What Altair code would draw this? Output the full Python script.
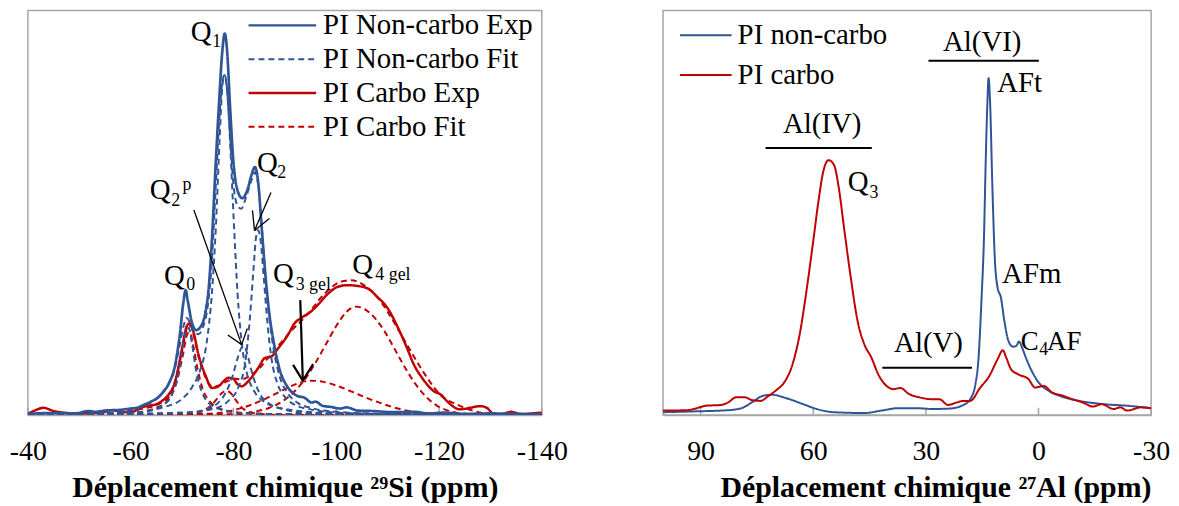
import altair as alt
import pandas as pd

BLUE = "#2F5597"
RED = "#C00000"
GRAY = "#A6A6A6"
FONT = "Liberation Serif"

# ---------------- 29Si panel (ppm, relative intensity %) ----------------
SI_BLUE_EXP_X = [-40, -45, -49, -52, -53, -55, -58, -60, -61.3, -62.5, -64.1, -65.3, -66.2, -67.5, -68.6,
                 -69.6, -70.3, -70.7, -71.1, -71.8, -72.7, -73.8, -74.5, -75.2, -75.8, -76.5, -77.2, -77.8,
                 -78.3, -78.8, -79.3, -80.0, -80.7, -81.7, -82.8, -83.5, -84.2, -84.8, -85.5, -86.2, -86.9,
                 -88.0, -89.0, -90.4, -91.5, -92.5, -93.8, -95.2, -96, -97.3, -99, -100.8, -102, -104.2,
                 -107, -111.1, -115, -118.1, -121, -125, -130, -135, -140]
SI_BLUE_EXP_Y = [0.3, 0.5, 0.4, 1.0, 0.8, 1.1, 1.3, 1.6, 1.8, 2.5, 3.4, 4.3, 5.5, 8.0, 12.1,
                 20.2, 28.3, 30.9, 28.3, 23.5, 21.0, 22.2, 25.1, 31.6, 43.0, 60.9, 77.2, 89.4,
                 94.3, 89.4, 77.2, 62.5, 56.0, 53.6, 56.0, 59.3, 61.3, 57.7, 46.3, 34.9, 25.9,
                 16.9, 11.2, 7.2, 5.5, 4.7, 4.3, 3.1, 3.3, 2.3, 2.0, 1.6, 1.9, 1.1,
                 1.0, 0.7, 0.8, 0.4, 0.6, 0.3, 0.4, 0.3, 0.2]

SI_BLUE_FIT_X = [-40, -55, -60, -63, -65, -67, -68.5, -69.5, -70.3, -70.9, -71.5, -72.3, -73.2, -74, -75,
                 -75.8, -76.5, -77.2, -77.8, -78.2, -78.7, -79.3, -80, -80.7, -81.5, -82.5, -83.5, -84.2,
                 -84.9, -85.6, -86.3, -87, -88, -89, -90.5, -92.5, -95, -100, -110, -140]
SI_BLUE_FIT_Y = [0, 0.5, 1.2, 2.5, 4, 7, 11, 17, 22, 24, 23, 20.5, 20, 21.5, 27,
                 38, 55, 72, 82, 84, 81, 70, 57, 52, 51, 54, 58, 60,
                 56, 45, 33, 24, 15, 9.5, 5.5, 3, 1.8, 0.8, 0.3, 0.1]

SI_BLUE_Q0_X = [-40, -60, -64, -66, -68, -69.3, -70.2, -70.8, -71.3, -71.9, -72.6, -73.5, -74.5, -76, -78, -82, -90, -140]
SI_BLUE_Q0_Y = [0, 0.5, 1.2, 2.2, 5, 10, 17, 21, 21.5, 18, 12, 7, 4, 2.2, 1.2, 0.5, 0.2, 0]

SI_BLUE_Q1_X = [-40, -60, -66, -70, -72, -73.5, -74.8, -75.8, -76.6, -77.3, -77.9, -78.3, -78.8, -79.4,
                -80.1, -80.8, -81.6, -82.5, -84, -86, -90, -100, -140]
SI_BLUE_Q1_Y = [0, 0.6, 1.8, 4, 7, 11, 18, 30, 47, 68, 82, 84, 80, 66,
                47, 30, 18, 11, 6, 3.3, 1.5, 0.4, 0]

SI_BLUE_Q2P_X = [-40, -70, -75, -77, -78.5, -79.8, -80.8, -81.5, -82, -82.6, -83.5, -84.5, -85.5, -87, -90, -95, -140]
SI_BLUE_Q2P_Y = [0, 0.5, 1.5, 3, 5.5, 9.5, 14, 16.5, 17, 15.5, 11, 7, 4.5, 2.8, 1.3, 0.5, 0]

SI_BLUE_Q2_X = [-40, -70, -76, -79, -81, -82.3, -83.2, -83.9, -84.4, -84.8, -85.3, -85.9, -86.6, -87.4,
                -88.5, -90, -92, -95, -100, -110, -140]
SI_BLUE_Q2_Y = [0, 0.6, 1.5, 3.5, 7, 13, 24, 36, 44, 45.7, 43, 34, 23, 14,
                8, 4.5, 2.5, 1.4, 0.6, 0.2, 0]

SI_RED_EXP_X = [-40, -41.5, -43, -45, -47, -50, -52, -54.5, -56, -58.4, -60, -61.5, -62.9, -64.8, -66,
                -67.4, -68.3, -69.0, -70.0, -70.9, -71.5, -72.2, -73.2, -74.5, -75.8, -77.1, -78.2, -79.0,
                -80.0, -80.6, -81.6, -82.9, -84.8, -86.1, -87.4, -88.7, -90.6, -91.9, -93.2, -95.1, -96.4,
                -98.4, -100.3, -102.2, -104.2, -106.1, -108.0, -110.0, -111.9, -113.8, -115.1, -116.7,
                -119.0, -120.3, -121.9, -124.1, -126.1, -128.0, -129.3, -130.6, -132, -134, -136, -138, -140]
SI_RED_EXP_Y = [0.3, 1.2, 1.8, 1.0, 0.6, 0.4, 0.5, 0.6, 1.2, 0.8, 0.6, 1.5, 2.2, 2.6, 3.4,
                5.1, 7.0, 10.0, 16.5, 21.9, 22.7, 20.6, 14.9, 10.0, 6.7, 7.1, 8.5, 9.2,
                9.0, 7.9, 7.1, 8.4, 11.6, 14.1, 14.5, 16.5, 19.8, 22.7, 24.0, 25.6, 27.2,
                30.0, 31.7, 32.1, 31.9, 31.3, 29.2, 26.4, 21.9, 16.5, 12.5, 9.2,
                5.9, 5.1, 3.0, 1.4, 1.8, 2.2, 1.8, 0.3, 0.2, 0.8, 0.2, 0.4, 0.6]

SI_RED_FIT_X = [-40, -58, -62, -65, -67.5, -69, -70.2, -71, -71.6, -72.4, -73.3, -74.5, -76, -77.5, -79,
                -80.3, -81.5, -83, -85, -87, -89, -91, -93, -95, -97, -99, -101, -103, -105.4, -107,
                -108.7, -110.5, -111.9, -113.5, -115.1, -117.7, -120.3, -123.5, -126.8, -130, -140]
SI_RED_FIT_Y = [0, 0.6, 1.5, 2.5, 4.5, 10, 17, 21.5, 22, 19, 14, 9.5, 7, 7.5, 8.5,
                9, 8.8, 9.5, 11.5, 14.5, 17.5, 20.5, 23, 25.8, 29, 31.5, 33, 33.3, 32.1, 30.5,
                28, 24.5, 21.5, 18, 14.5, 9.2, 4.9, 2.6, 1.0, 0.3, 0.1]

SI_RED_Q0_X = [-40, -60, -65, -67.5, -69, -70.2, -71, -71.5, -72.2, -73, -74, -75.5, -77, -80, -85, -140]
SI_RED_Q0_Y = [0, 0.5, 1.8, 4, 8.5, 15, 20, 20.5, 17, 11.5, 6.5, 3.2, 1.8, 0.8, 0.3, 0]

SI_RED_Q1_X = [-40, -72, -74, -75.5, -76.8, -77.8, -78.6, -79.4, -80.4, -81.5, -83, -85, -90, -140]
SI_RED_Q1_Y = [0, 0.3, 1, 2.2, 4, 5.5, 6, 5.5, 3.8, 2, 0.8, 0.3, 0, 0]

SI_RED_Q3_X = [-40, -75, -80, -84, -87, -90, -92.5, -95, -97.5, -100, -103, -106, -109, -112, -115, -118, -122, -125, -140]
SI_RED_Q3_Y = [0, 0.3, 1.2, 2.8, 4.5, 6.4, 7.8, 8.5, 8.2, 7.3, 5.8, 4.2, 2.8, 1.6, 0.8, 0.4, 0.1, 0, 0]

SI_RED_Q4_X = [-40, -80, -84, -87, -90, -92, -94, -96, -98, -100, -102, -103.8, -105.5, -107.5, -109.5,
               -111.5, -113.5, -115.5, -117.5, -119.5, -122, -125, -130, -140]
SI_RED_Q4_Y = [0, 0.2, 0.8, 1.8, 3.8, 6, 9, 13, 17.5, 22, 25.5, 26.8, 26.2, 24, 20.5,
               16, 11.5, 7.5, 4.5, 2.4, 1, 0.3, 0, 0]

SI_TICKS = [-40, -60, -80, -100, -120, -140]

SI_LABEL_TEXT = ["Q", "1", "Q", "2", "Q", "2", "p", "Q", "0", "Q", "3 gel", "Q", "4 gel"]
SI_LABEL_X = [-71.7, -75.9, -84.6, -88.5, -63.7, -67.9, -70.1, -66.5, -70.8, -87.7, -92.1, -103.1, -107.6]
SI_LABEL_Y = [92.4, 91.0, 60.0, 58.5, 53.3, 51.6, 55.6, 32.2, 30.9, 32.7, 31.0, 34.9, 33.4]
SI_LABEL_SIZE = [29, 18, 29, 18, 29, 18, 18, 29, 18, 29, 18, 29, 18]

SI_ARROW_X1 = [-72.3, -78.9, -82.7, -87.3, -83.7, -87.0]
SI_ARROW_Y1 = [50.7, 19.8, 21.4, 55.0, 50.6, 48.6]
SI_ARROW_X2 = [-81.6, -81.6, -81.6, -84.1, -84.1, -84.1]
SI_ARROW_Y2 = [17.4, 17.4, 17.4, 45.6, 45.6, 45.6]
SI_BIG_ARROW_X1 = [-93.0, -91.6, -95.5]
SI_BIG_ARROW_Y1 = [28.4, 12.4, 12.6]
SI_BIG_ARROW_X2 = [-93.5, -93.5, -93.5]
SI_BIG_ARROW_Y2 = [8.5, 8.5, 8.5]

SI_LEGEND = ["PI Non-carbo Exp", "PI Non-carbo Fit", "PI Carbo Exp", "PI Carbo Fit"]

# ---------------- 27Al panel ----------------
AL_BLUE_X = [100, 91.8, 82.7, 79.1, 76.4, 73.2, 70.9, 67.3, 62.7, 59.1, 54.5, 46.4, 41.8, 37.3, 32.7,
             28.2, 23.6, 20.0, 18.2, 16.8, 15.9, 15.2, 14.5, 14.1, 13.6, 13.3, 12.9, 12.3, 11.6, 10.9,
             10.0, 9.1, 8.0, 6.8, 5.9, 5.2, 4.4, 3.2, 1.8, 0, -2.7, -6.4, -10.9, -17.3, -23.6, -30]
AL_BLUE_Y = [0.7, 0.9, 1.2, 1.7, 3.1, 4.8, 5.0, 4.2, 2.7, 1.5, 0.7, 0.5, 1.1, 1.7, 1.7,
             1.5, 1.6, 2.5, 3.9, 7.6, 15.0, 28.2, 44.7, 61.1, 77.5, 83.3, 77.5, 57.0, 38.1, 31.5,
             29.0, 23.3, 18.3, 16.9, 17.1, 18.2, 16.7, 13.8, 10.9, 8.1, 6.0, 4.5, 3.5, 2.7, 2.3, 1.7]

AL_RED_X = [100, 93.6, 91.8, 88.6, 84.5, 82.7, 80.5, 78.2, 76.4, 74.1, 71.8, 69.5, 67.7, 65.5, 63.6,
            61.8, 60.0, 58.6, 57.3, 55.9, 54.5, 53.2, 51.8, 50.0, 48.2, 46.4, 44.5, 42.7, 40.9, 38.6,
            36.8, 34.5, 31.8, 28.2, 26.4, 24.1, 21.8, 20.0, 18.2, 15.5, 13.2, 10.9, 9.5, 8.6, 7.3,
            5.5, 2.7, 0.9, -1.4, -3.6, -6.4, -9.1, -11.8, -14.5, -16.8, -20.0, -21.8, -23.6, -27.3, -30]
AL_RED_Y = [1.1, 1.2, 1.5, 2.3, 2.5, 3.1, 4.4, 4.4, 3.7, 3.5, 4.8, 6.4, 8.1, 12.6, 20.0,
            30.7, 43.0, 52.9, 60.3, 63.0, 61.9, 56.2, 46.3, 34.0, 23.3, 17.5, 14.2, 10.1, 7.6, 6.4,
            6.7, 5.2, 4.4, 3.9, 3.9, 2.5, 3.1, 3.5, 3.5, 6.8, 9.5, 13.8, 16.0, 14.2, 11.3,
            10.1, 8.9, 6.8, 7.2, 5.6, 4.8, 3.9, 3.1, 2.1, 2.7, 1.5, 1.9, 1.1, 1.9, 1.7]

AL_TICKS = [90, 60, 30, 0, -30]

AL_BAR_X1 = [72.7, 41.6, 29.3]
AL_BAR_X2 = [44.4, 17.7, -0.1]
AL_BAR_Y = [66.0, 11.7, 87.6]

AL_CLABEL_TEXT = ["Al(IV)", "Al(V)", "Al(VI)"]
AL_CLABEL_X = [57.6, 29.3, 15.0]
AL_CLABEL_Y = [69.6, 15.6, 90.1]

AL_LABEL_TEXT = ["Q", "3", "AFt", "AFm", "C", "4", "AF"]
AL_LABEL_X = [50.8, 45.0, 11.0, 9.7, 4.7, -0.2, -2.3]
AL_LABEL_Y = [55.3, 53.6, 79.8, 32.6, 16.0, 14.9, 16.0]
AL_LABEL_SIZE = [29, 18, 29, 29, 27, 18, 27]

AL_LEGEND = ["PI non-carbo", "PI carbo"]

# ---------------- build ----------------
PW_L, PW_R, PH = 517, 491, 407
LABEL_EXPR = "toString(datum.value)"


def curves(pairs):
    frames = []
    for name, xs, ys in pairs:
        frames.append(pd.DataFrame({"ppm": xs, "I": ys, "curve": name}))
    return pd.concat(frames, ignore_index=True)


sx_si = alt.Scale(domain=[-140, -40], reverse=True, nice=False, zero=False)
sy = alt.Scale(domain=[0, 100], nice=False, zero=False)
sx_al = alt.Scale(domain=[-30, 100], reverse=True, nice=False, zero=False)

ax_si = alt.Axis(values=SI_TICKS, title="Déplacement chimique ²⁹Si (ppm)", labelExpr=LABEL_EXPR)
ax_al = alt.Axis(values=AL_TICKS, title="Déplacement chimique ²⁷Al (ppm)", labelExpr=LABEL_EXPR,
                 titleX=274, titleAlign="center")


def line_layer(df, color, dash, width, sx, ax):
    return alt.Chart(df).mark_line(color=color, strokeDash=dash, strokeWidth=width,
                                   interpolate="monotone", clip=True).encode(
        x=alt.X("ppm:Q", scale=sx, axis=ax),
        y=alt.Y("I:Q", scale=sy, axis=None),
        detail="curve:N",
        order=alt.Order("idx:Q"),
    ).transform_window(idx="row_number()", groupby=["curve"])


def seg_layer(x1, y1, x2, y2, width, sx, ax):
    df = pd.DataFrame({"x1": x1, "y1": y1, "x2": x2, "y2": y2})
    return alt.Chart(df).mark_rule(color="black", strokeWidth=width).encode(
        x=alt.X("x1:Q", scale=sx, axis=ax), y=alt.Y("y1:Q", scale=sy, axis=None),
        x2="x2:Q", y2="y2:Q")


def tick_layer(ticks, sx, ax):
    df = pd.DataFrame({"t": ticks, "b": [0] * len(ticks), "h": [1.8] * len(ticks)})
    return alt.Chart(df).mark_rule(color=GRAY, strokeWidth=1.5).encode(
        x=alt.X("t:Q", scale=sx, axis=ax), y=alt.Y("b:Q", scale=sy, axis=None), y2="h:Q")


def text_layer(texts, xs, ys, sizes, align, sx, ax):
    df = pd.DataFrame({"txt": texts, "x": xs, "y": ys, "fs": sizes})
    return alt.Chart(df).mark_text(font=FONT, align=align, baseline="alphabetic", color="black").encode(
        x=alt.X("x:Q", scale=sx, axis=ax), y=alt.Y("y:Q", scale=sy, axis=None),
        text="txt:N", size=alt.Size("fs:Q", scale=None))


def legend_rows(labels, colors, dashes, widths, x0, x1, xt, ys):
    one = pd.DataFrame({"k": [0]})
    out = []
    for lab, c, d, w, y in zip(labels, colors, dashes, widths, ys):
        out.append(alt.Chart(one).mark_rule(color=c, strokeDash=d, strokeWidth=w).encode(
            x=alt.value(x0), x2=alt.value(x1), y=alt.value(y)))
        out.append(alt.Chart(one).mark_text(font=FONT, fontSize=29, align="left", baseline="middle",
                                            color="black").encode(
            x=alt.value(xt), y=alt.value(y), text=alt.value(lab)))
    return out


SOLID = [1, 0]
DASH = [6, 4]

red_fit = curves([("rfit", SI_RED_FIT_X, SI_RED_FIT_Y), ("rq0", SI_RED_Q0_X, SI_RED_Q0_Y),
                  ("rq1", SI_RED_Q1_X, SI_RED_Q1_Y), ("rq3", SI_RED_Q3_X, SI_RED_Q3_Y),
                  ("rq4", SI_RED_Q4_X, SI_RED_Q4_Y)])
red_exp = curves([("rexp", SI_RED_EXP_X, SI_RED_EXP_Y)])
blue_fit = curves([("bfit", SI_BLUE_FIT_X, SI_BLUE_FIT_Y), ("bq0", SI_BLUE_Q0_X, SI_BLUE_Q0_Y),
                   ("bq1", SI_BLUE_Q1_X, SI_BLUE_Q1_Y), ("bq2p", SI_BLUE_Q2P_X, SI_BLUE_Q2P_Y),
                   ("bq2", SI_BLUE_Q2_X, SI_BLUE_Q2_Y)])
blue_exp = curves([("bexp", SI_BLUE_EXP_X, SI_BLUE_EXP_Y)])

left_layers = [
    tick_layer(SI_TICKS, sx_si, ax_si),
    line_layer(red_fit, RED, DASH, 2, sx_si, ax_si),
    line_layer(red_exp, RED, SOLID, 2.5, sx_si, ax_si),
    line_layer(blue_fit, BLUE, DASH, 2, sx_si, ax_si),
    line_layer(blue_exp, BLUE, SOLID, 2.7, sx_si, ax_si),
    seg_layer(SI_ARROW_X1, SI_ARROW_Y1, SI_ARROW_X2, SI_ARROW_Y2, 1.3, sx_si, ax_si),
    seg_layer(SI_BIG_ARROW_X1, SI_BIG_ARROW_Y1, SI_BIG_ARROW_X2, SI_BIG_ARROW_Y2, 2.2, sx_si, ax_si),
    text_layer(SI_LABEL_TEXT, SI_LABEL_X, SI_LABEL_Y, SI_LABEL_SIZE, "left", sx_si, ax_si),
] + legend_rows(SI_LEGEND, [BLUE, BLUE, RED, RED], [SOLID, DASH, SOLID, DASH], [2.4, 2, 2.4, 2],
                222, 290, 297, [15, 49, 83, 117])

left = alt.layer(*left_layers).properties(width=PW_L, height=PH)

al_blue = curves([("ab", AL_BLUE_X, AL_BLUE_Y)])
al_red = curves([("ar", AL_RED_X, AL_RED_Y)])

right_layers = [
    tick_layer(AL_TICKS, sx_al, ax_al),
    line_layer(al_blue, BLUE, SOLID, 2, sx_al, ax_al),
    line_layer(al_red, RED, SOLID, 2, sx_al, ax_al),
    seg_layer(AL_BAR_X1, AL_BAR_Y, AL_BAR_X2, AL_BAR_Y, 2, sx_al, ax_al),
    text_layer(AL_CLABEL_TEXT, AL_CLABEL_X, AL_CLABEL_Y, [29, 29, 29], "center", sx_al, ax_al),
    text_layer(AL_LABEL_TEXT, AL_LABEL_X, AL_LABEL_Y, AL_LABEL_SIZE, "left", sx_al, ax_al),
] + legend_rows(AL_LEGEND, [BLUE, RED], [SOLID, SOLID], [2, 2], 17, 69, 75, [25, 65])

right = alt.layer(*right_layers).properties(width=PW_R, height=PH)

chart = alt.hconcat(left, right, spacing=94).properties(
    padding={"left": 0, "top": 0, "right": 0, "bottom": 0}
).configure(font=FONT).configure_view(
    stroke=GRAY, strokeWidth=1.5
).configure_axis(
    labelFont=FONT, labelFontSize=28, labelColor="black",
    titleFont=FONT, titleFontSize=30, titleFontWeight="bold", titleColor="black",
    domainColor=GRAY, domainWidth=1.5, ticks=False, grid=False,
    labelPadding=23, titlePadding=7, labelFlush=False, labelOverlap=False,
)

chart.save("out.html", embed_options={"renderer": "svg", "actions": False})
